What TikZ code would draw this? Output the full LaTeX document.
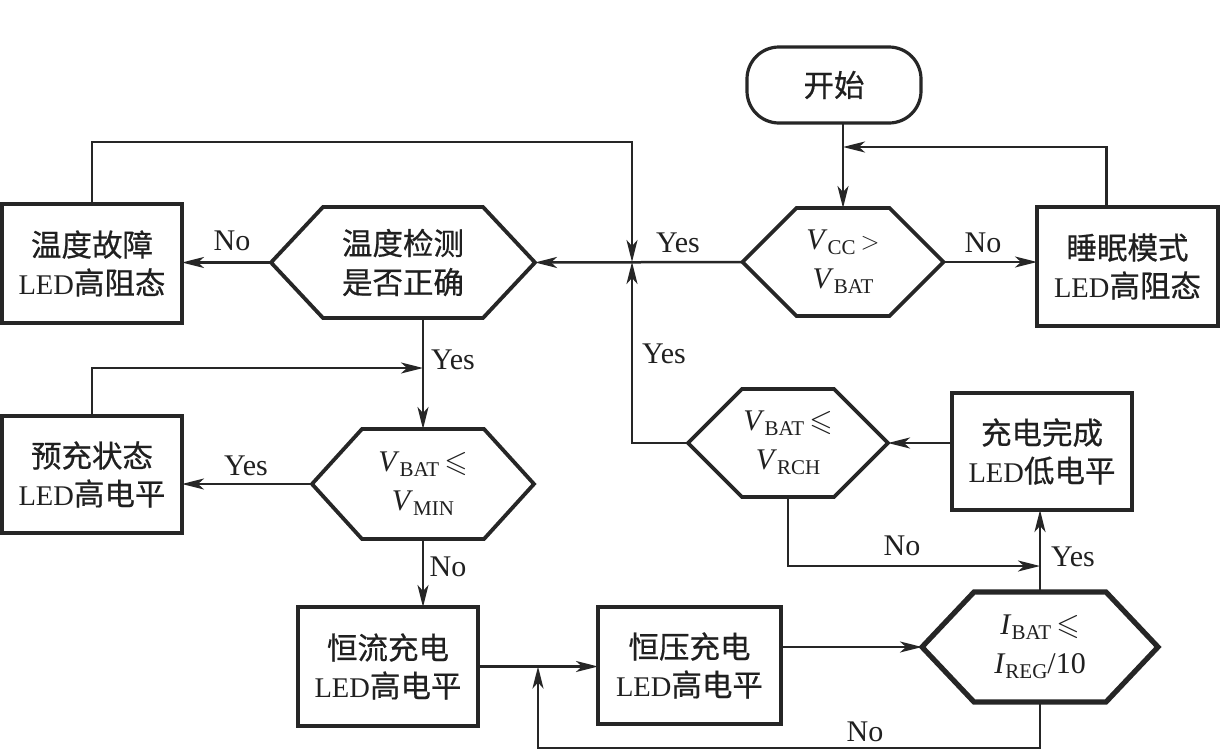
\documentclass[tikz,border=0pt]{standalone}
\usepackage{fontspec}
\usepackage{amssymb}
\setmainfont{Liberation Serif}
\newfontfamily\cjk[FakeBold=0.6]{Noto Sans CJK SC}
\usetikzlibrary{arrows.meta,calc}
\definecolor{linec}{HTML}{262626}
\definecolor{textc}{HTML}{202020}
\newcommand\zh[1]{{\cjk\fontsize{30.5}{38}\selectfont #1}}
\newcommand\sub[1]{\raisebox{-0.35ex}{\fontsize{21}{21}\selectfont #1}}
\newcommand\hexout[3]{\draw[line width=#3,draw=linec,line join=miter]
  (#1.west) -- ([xshift=#2]#1.north west) -- ([xshift=-#2]#1.north east) --
  (#1.east) -- ([xshift=-#2]#1.south east) -- ([xshift=#2]#1.south west) -- cycle;}
\begin{document}
\begin{tikzpicture}[x=1pt,y=-1pt,
  line/.style={line width=2.5pt,draw=linec},
  arr/.style={line,-{Stealth[length=22pt,width=11pt,inset=6pt]}},
  box/.style={draw=linec,line width=3.2pt,inner sep=0pt,outer sep=0pt,align=center,
    text=textc,font=\fontsize{28.5}{38}\selectfont},
  startb/.style={box,rounded corners=32pt},
  hexn/.style={draw=none,inner sep=0pt,outer sep=0pt,align=center,text=textc,
    font=\fontsize{30}{39}\selectfont},
  lab/.style={text=textc,inner sep=0pt,font=\fontsize{30}{30}\selectfont}]
\fill[white] (0,0) rectangle (1221,750);
\useasboundingbox (0,0) rectangle (1221,750);

% nodes
\node[startb,minimum width=174pt,minimum height=76pt] (start) at (834,85) {\zh{开始}};
\node[hexn,minimum width=201pt,minimum height=108pt] (vcc) at (843,262)
  {\textit{V}\sub{CC}\,$>$\\\textit{V}\sub{BAT}};
\node[box,minimum width=181pt,minimum height=119pt] (sleep) at (1127.5,266.5)
  {\zh{睡眠模式}\\LED\zh{高阻态}};
\node[box,minimum width=180pt,minimum height=119pt] (tfault) at (92,263.5)
  {\zh{温度故障}\\LED\zh{高阻态}};
\node[hexn,minimum width=264pt,minimum height=111pt] (tcheck) at (403,262.5)
  {\zh{温度检测}\\\zh{是否正确}};
\node[box,minimum width=180pt,minimum height=117pt] (pre) at (92,474.5)
  {\zh{预充状态}\\LED\zh{高电平}};
\node[hexn,minimum width=222pt,minimum height=110pt] (vmin) at (423,484)
  {\textit{V}\sub{BAT}\,$\leqslant$\\\textit{V}\sub{MIN}};
\node[box,minimum width=180pt,minimum height=119pt] (cc) at (388,666.5)
  {\zh{恒流充电}\\LED\zh{高电平}};
\node[box,minimum width=183pt,minimum height=117pt] (cv) at (689.5,665.5)
  {\zh{恒压充电}\\LED\zh{高电平}};
\node[hexn,minimum width=236pt,minimum height=110pt] (ibat) at (1040,647)
  {\textit{I}\sub{BAT}\,$\leqslant$\\\textit{I}\sub{REG}/10};
\node[box,minimum width=180pt,minimum height=117pt] (done) at (1042,451.5)
  {\zh{充电完成}\\LED\zh{低电平}};
\node[hexn,minimum width=200pt,minimum height=108pt] (vrch) at (788,443)
  {\textit{V}\sub{BAT}\,$\leqslant$\\\textit{V}\sub{RCH}};

\hexout{vcc}{54pt}{3.8pt}
\hexout{tcheck}{52pt}{3.8pt}
\hexout{vmin}{50pt}{3.8pt}
\hexout{vrch}{54pt}{3.8pt}
\hexout{ibat}{52pt}{5.2pt}

% junction coordinates
\coordinate (j0) at (843,147);
\coordinate (j1) at (632,262);
\coordinate (j4) at (423,368);
\coordinate (j2) at (538,666.5);
\coordinate (j3) at (1040,566);

% connectors
\draw[arr] (vcc.north |- start.south) -- (vcc.north);
\draw[arr] ([xshift=-21pt]sleep.north) |- (j0);
\draw[arr] (vcc.east) -- (vcc.east -| sleep.west);
\draw[arr] (vcc.west) -- (tcheck.east);
\draw[arr] (tfault.north) |- ($(j1)+(0,-120)$) -- (j1);
\draw[arr] (vrch.west) -| (j1);
\draw[arr] (tcheck.west) -- (tcheck.west -| tfault.east);
\draw[arr] (vmin.north |- tcheck.south) -- (vmin.north);
\draw[arr] (pre.north) |- (j4);
\draw[arr] (vmin.west) -- (vmin.west -| pre.east);
\draw[arr] (vmin.south) -- (vmin.south |- cc.north);
\draw[arr] (cc.east) -- (cc.east -| cv.west);
\draw[arr] (ibat.south) -- ++(0,46) -| (j2);
\draw[arr] (cv.east |- ibat.west) -- (ibat.west);
\draw[arr] (ibat.north) -- (ibat.north |- done.south);
\draw[arr] (vrch.south) |- (j3);
\draw[arr] (done.west |- vrch.east) -- (vrch.east);

% labels
\node[lab] (l1) at (232,241) {No};
\node[lab] (l2) at (678,243) {Yes};
\node[lab] (l3) at (983,243) {No};
\node[lab] (l4) at (664,354) {Yes};
\node[lab] (l5) at (453,360) {Yes};
\node[lab] (l6) at (246,466) {Yes};
\node[lab] (l7) at (448,567) {No};
\node[lab] (l8) at (902,546) {No};
\node[lab] (l9) at (1073,557) {Yes};
\node[lab] (l10) at (865,732) {No};
\end{tikzpicture}
\end{document}
